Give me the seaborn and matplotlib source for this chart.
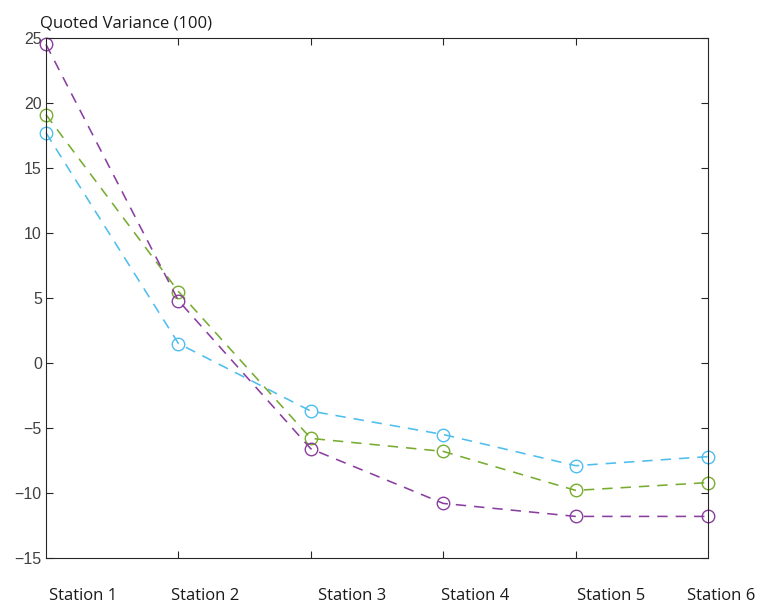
import numpy as np
import matplotlib
matplotlib.use("Agg")
import matplotlib.pyplot as plt
import pandas as pd
import seaborn as sns

stations = ["Station 1", "Station 2", "Station 3", "Station 4", "Station 5", "Station 6"]
blue_vals = [17.7, 1.5, -3.7, -5.5, -7.9, -7.2]
green_vals = [19.1, 5.5, -5.8, -6.8, -9.8, -9.2]
purple_vals = [24.5, 4.8, -6.6, -10.8, -11.8, -11.8]
series_names = ["blue", "green", "purple"]
series_colors = ["#4DBEEE", "#77AC30", "#8A3FA0"]
# label centres sit a bit to the right of each point in the original
label_pos = [1.28, 2.20, 3.31, 4.24, 5.27, 6.10]
title = "Quoted Variance (100)"

pos = np.arange(1, len(stations) + 1)
df = pd.DataFrame({"pos": np.tile(pos, 3),
                   "value": blue_vals + green_vals + purple_vals,
                   "series": np.repeat(series_names, len(stations))})

sns.set_style("white")
plt.rcParams["font.family"] = ["Liberation Sans", "DejaVu Sans"]

fig = plt.figure(figsize=(7.62, 6.06), dpi=100)
ax = fig.add_axes([0.0604, 0.0792, 0.8688, 0.8581])

for name, col in zip(series_names, series_colors):
    sub = df[df["series"] == name]
    sns.lineplot(data=sub, x="pos", y="value", ax=ax, color=col,
                 marker="o", markersize=9, markerfacecolor="none",
                 markeredgecolor=col, markeredgewidth=1.0,
                 linestyle=(0, (6.5, 5)), linewidth=1.15, legend=False,
                 clip_on=False)

ax.set_xlim(1, 6)
ax.set_ylim(-15, 25)
ax.set_yticks(np.arange(-15, 26, 5))
ax.set_xticks([2, 3, 4, 5])
ax.set_xticklabels([])
ax.set_xlabel("")
ax.set_ylabel("")
ax.tick_params(axis="both", direction="in", length=5, width=0.8, color="#262626",
               top=True, right=True, bottom=True, left=True)
ax.tick_params(axis="y", labelsize=11.5, labelcolor="#404040", pad=3)
for s in ax.spines.values():
    s.set_color("#262626")
    s.set_linewidth(0.8)

for lab, x in zip(stations, label_pos):
    ax.text(x, -17.9, lab, ha="center", va="center", clip_on=False,
            fontsize=12, family=["Open Sans", "DejaVu Sans"], color="#1a1a1a")

fig.text(0.052, 0.962, title, ha="left", va="center", fontsize=12,
         family=["Open Sans", "DejaVu Sans"], color="#1a1a1a")

fig.savefig("out.png", dpi=100)
